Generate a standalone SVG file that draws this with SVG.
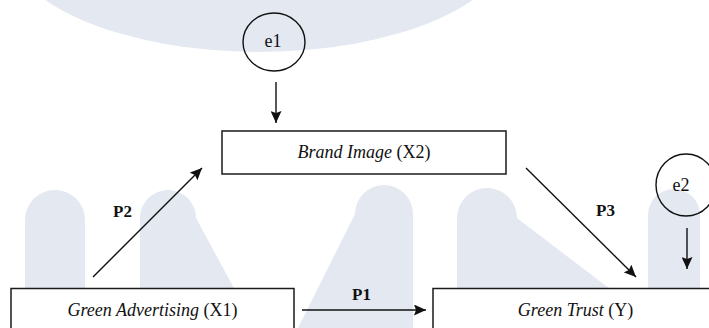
<svg xmlns="http://www.w3.org/2000/svg" width="709" height="328" viewBox="0 0 709 328">
  <style>
    .wm { fill: #e4e8f0; }
    .box { fill: #ffffff; stroke: #1a1a1a; stroke-width: 1.5; }
    .err { fill: none; stroke: #111111; stroke-width: 1.4; }
    .lbl { font-family: "Liberation Serif", "Times New Roman", serif; font-size: 18px; fill: #111111; text-anchor: middle; }
    .lbl .nm { font-style: italic; }
    .err-t { font-family: "Liberation Serif", "Times New Roman", serif; font-size: 18px; fill: #111111; text-anchor: middle; }
    .path-t { font-family: "Liberation Serif", "Times New Roman", serif; font-size: 17px; font-weight: bold; fill: #111111; }
    .edge { stroke: #111111; stroke-width: 1.4; fill: none; marker-end: url(#head); }
  </style>
  <defs>
    <marker id="head" viewBox="0 0 12 11" refX="12" refY="5.5" markerWidth="12" markerHeight="11" markerUnits="userSpaceOnUse" orient="auto">
      <path d="M0,0 L12,5.5 L0,11 L2,5.5 z" fill="#111111"/>
    </marker>
  </defs>

  <rect width="709" height="328" fill="#ffffff"/>

  <!-- faint background lettering -->
  <g id="backdrop">
    <ellipse class="wm" cx="259" cy="-60" rx="253" ry="112"/>
    <path class="wm" d="M25,340 V220 A30,30 0 0 1 85,220 V340 Z"/>
    <path class="wm" d="M140,340 V218 A28,28 0 0 1 196,218 L262,340 Z"/>
    <path class="wm" d="M413,340 V214 A29,29 0 0 0 355,214 L292,340 Z"/>
    <path class="wm" d="M457,340 V218 A30,30 0 0 1 517,218 L648,318 V340 Z"/>
    <path class="wm" d="M648,340 V215 A26,26 0 0 1 700,215 V340 Z"/>
  </g>

  <!-- connectors -->
  <g id="connectors">
    <line class="edge" x1="276" y1="82" x2="276" y2="123"/>
    <line class="edge" x1="687" y1="228" x2="687" y2="269"/>
    <line class="edge" x1="93" y1="277" x2="202" y2="168"/>
    <line class="edge" x1="526" y1="168" x2="636" y2="277"/>
    <line class="edge" x1="302" y1="310" x2="426" y2="310"/>
    <text class="path-t" x="113" y="217">P2</text>
    <text class="path-t" x="596" y="216">P3</text>
    <text class="path-t" x="352" y="300">P1</text>
  </g>

  <g id="e1">
    <ellipse class="err" cx="274" cy="42" rx="31" ry="29"/>
    <text class="err-t" x="273" y="47">e1</text>
  </g>

  <g id="e2">
    <ellipse class="err" cx="686" cy="185" rx="30" ry="31"/>
    <text class="err-t" x="681" y="191">e2</text>
  </g>

  <g id="brand-image">
    <rect class="box" x="222" y="131" width="284" height="43"/>
    <text class="lbl" x="364" y="158"><tspan class="nm">Brand Image</tspan> (X2)</text>
  </g>

  <g id="green-advertising">
    <rect class="box" x="11" y="288.5" width="283" height="50"/>
    <text class="lbl" x="152.5" y="316"><tspan class="nm">Green Advertising</tspan> (X1)</text>
  </g>

  <g id="green-trust">
    <rect class="box" x="433" y="288.5" width="290" height="50"/>
    <text class="lbl" x="575.5" y="316"><tspan class="nm">Green Trust</tspan> (Y)</text>
  </g>
</svg>
